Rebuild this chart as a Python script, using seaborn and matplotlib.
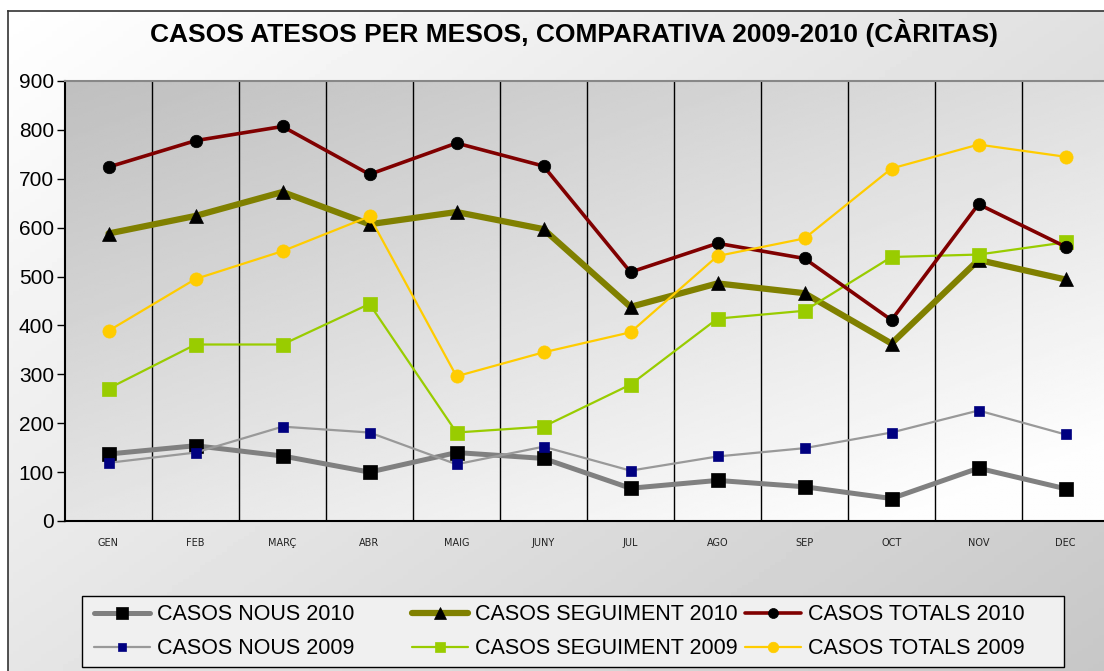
import numpy as np
import pandas as pd
import matplotlib
matplotlib.use("Agg")
import matplotlib.pyplot as plt
import seaborn as sns
from matplotlib.patches import Rectangle

months = ["GEN", "FEB", "MARÇ", "ABR", "MAIG", "JUNY", "JUL", "AGO", "SEP", "OCT", "NOV", "DEC"]
nous_2010 = [137, 154, 133, 100, 140, 128, 67, 83, 70, 46, 108, 66]
seguiment_2010 = [588, 624, 673, 607, 632, 597, 438, 486, 466, 363, 534, 494]
totals_2010 = [724, 778, 807, 709, 773, 726, 509, 568, 537, 411, 648, 561]
nous_2009 = [119, 140, 193, 181, 116, 152, 103, 132, 149, 181, 226, 177]
seguiment_2009 = [271, 361, 361, 444, 181, 193, 279, 414, 430, 540, 545, 570]
totals_2009 = [389, 495, 552, 623, 296, 345, 386, 542, 578, 721, 770, 745]
y_ticks = [0, 100, 200, 300, 400, 500, 600, 700, 800, 900]
title = "CASOS ATESOS PER MESOS, COMPARATIVA 2009-2010 (CÀRITAS)"

sns.set_theme(style="white")
plt.rcParams['font.family'] = ['Liberation Sans', 'DejaVu Sans']

W, H = 1104, 671
fig = plt.figure(figsize=(W / 100, H / 100), dpi=100)
fig.patch.set_facecolor("white")

# chart-area background gradient (white top-left, gray bottom-right), framed
fx0, fy_top = 8 / W, 1 - 11 / H
bg = fig.add_axes([fx0, 0, 1 - fx0, fy_top], zorder=-10)
yy, xx = np.mgrid[0:1:200j, 0:1:200j]
g = 1.0 - (0.12 * xx + 0.10 * yy)
bg.imshow(g, cmap="gray", vmin=0, vmax=1, extent=[0, 1, 0, 1], aspect="auto", origin="upper")
bg.set_xlim(0, 1); bg.set_ylim(0, 1)
bg.set_xticks([]); bg.set_yticks([])
for s in ["left", "top"]:
    bg.spines[s].set_color("#333333"); bg.spines[s].set_linewidth(1.2)
for s in ["right", "bottom"]:
    bg.spines[s].set_visible(False)

left, bottom, top = 65 / W, 1 - 521 / H, 1 - 81 / H
ax = fig.add_axes([left, bottom, 1044 / W, top - bottom])
ax.patch.set_alpha(0)

# plot-area gradient (darker top-left to light bottom-right)
pg = 0.75 + 0.245 * np.clip(0.6 * yy + 0.5 * xx, 0, 1)
ax.imshow(pg, cmap="gray", vmin=0, vmax=1, extent=[-0.5, 11.5, 0, 900],
          aspect="auto", origin="upper", zorder=0)

series = [
    ("CASOS NOUS 2010", nous_2010, dict(color="#808080", lw=3.6, marker="s", ms=10, mfc="black", mec="black")),
    ("CASOS NOUS 2009", nous_2009, dict(color="#999999", lw=1.6, marker="s", ms=6.5, mfc="#000080", mec="#000080")),
    ("CASOS SEGUIMENT 2010", seguiment_2010, dict(color="#808000", lw=4.5, marker="^", ms=10.5, mfc="black", mec="black")),
    ("CASOS SEGUIMENT 2009", seguiment_2009, dict(color="#99CC00", lw=1.6, marker="s", ms=9.5, mfc="#99CC00", mec="#99CC00")),
    ("CASOS TOTALS 2010", totals_2010, dict(color="#800000", lw=2.6, marker="o", ms=9, mfc="black", mec="black")),
    ("CASOS TOTALS 2009", totals_2009, dict(color="#FFCC00", lw=1.6, marker="o", ms=9.5, mfc="#FFCC00", mec="#FFCC00")),
]
draw_order = [1, 0, 3, 5, 2, 4]
for i in draw_order:
    name, vals, st = series[i]
    df = pd.DataFrame({"mes": months, "v": vals})
    sns.lineplot(data=df, x="mes", y="v", sort=False, ax=ax, label=name, zorder=3 + i,
                 color=st["color"], linewidth=st["lw"], marker=st["marker"], markersize=st["ms"],
                 markerfacecolor=st["mfc"], markeredgecolor=st["mec"], markeredgewidth=0.5)

ax.set_xlim(-0.5, 11.5)
ax.set_ylim(0, 900)
ax.set_yticks(y_ticks)
ax.set_yticklabels([str(t) for t in y_ticks], fontsize=15, color="black")
ax.set_xticks(range(12))
ax.set_xticklabels(months, fontsize=7, color="#222222", family="DejaVu Sans")
ax.set_xticks(np.arange(-0.5, 12, 1), minor=True)
ax.tick_params(axis="x", which="major", length=0, pad=12)
ax.tick_params(axis="x", which="minor", length=5, width=1, color="black", direction="out")
ax.tick_params(axis="y", length=6, width=1, color="black", direction="out", pad=2, left=True)
ax.grid(False)
for xb in np.arange(0.5, 11.5, 1):
    ax.axvline(xb, color="black", lw=1, zorder=1)
ax.set_xlabel(""); ax.set_ylabel("")
for s in ["left", "bottom"]:
    ax.spines[s].set_color("black"); ax.spines[s].set_linewidth(1.5)
ax.spines["top"].set_color("#888888"); ax.spines["top"].set_linewidth(1.5)
ax.spines["right"].set_visible(False)

fig.text(574 / W, 1 - 33 / H, title, ha="center", va="center", fontsize=19, fontweight="bold",
         color="black")

handles, labels = ax.get_legend_handles_labels()
lab_to_h = dict(zip(labels, handles))
ax.get_legend().remove()

# legend frame
fig.patches.append(Rectangle((82 / W, 1 - 667 / H), (1064 - 82) / W, (667 - 596) / H,
                             transform=fig.transFigure, facecolor="#f0f0f0", edgecolor="black",
                             lw=1.0, zorder=2))
cols = [(["CASOS NOUS 2010", "CASOS NOUS 2009"], 92),
        (["CASOS SEGUIMENT 2010", "CASOS SEGUIMENT 2009"], 410),
        (["CASOS TOTALS 2010", "CASOS TOTALS 2009"], 743)]
for labs, x0 in cols:
    lg = fig.legend([lab_to_h[l] for l in labs], labs, ncol=1, loc="upper left",
                    bbox_to_anchor=(x0 / W, 1 - 602 / H), bbox_transform=fig.transFigure,
                    borderaxespad=0, borderpad=0.1, fontsize=15.5, handlelength=2.6,
                    handletextpad=0.3, labelspacing=0.62, frameon=False, markerscale=0.8)
    for t in lg.get_texts():
        t.set_color("black")
    lg.set_zorder(5)

fig.savefig("out.png", dpi=100)
